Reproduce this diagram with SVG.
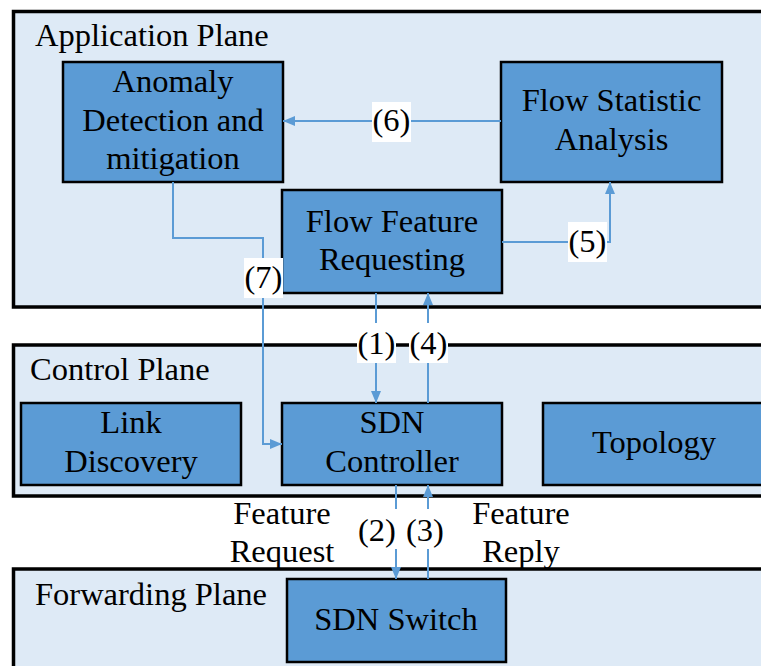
<svg xmlns="http://www.w3.org/2000/svg" width="761" height="666" viewBox="0 0 761 666">
<style>
.plane{fill:#DEEAF6;stroke:#000;stroke-width:3.5}
.box{fill:#5B9BD5;stroke:#000;stroke-width:2.5}
.c{fill:none;stroke:#5B9BD5;stroke-width:2}
.lb{fill:#fff}
.m{text-anchor:middle}
</style>
<defs>
<marker id="ah" markerWidth="12" markerHeight="10" refX="12" refY="5" orient="auto" markerUnits="userSpaceOnUse">
<path d="M0,0 L12,5 L0,10 Z" fill="#5B9BD5"/>
</marker>
</defs>
<rect width="761" height="666" fill="#fff"/>
<g font-family="Liberation Serif" font-size="32.5" fill="#000">
<g id="application-plane">
<rect class="plane" x="13.5" y="11.5" width="780" height="295.5"/>
<text x="35" y="46">Application Plane</text>
</g>
<g id="control-plane">
<rect class="plane" x="13.5" y="345" width="780" height="151"/>
<text x="30" y="380">Control Plane</text>
</g>
<g id="forwarding-plane">
<rect class="plane" x="13.5" y="569" width="780" height="120"/>
<text x="35" y="605">Forwarding Plane</text>
</g>
<g id="anomaly">
<rect class="box" x="63" y="62" width="220" height="120"/>
<text class="m" x="173" y="92">Anomaly</text>
<text class="m" x="173" y="131">Detection and</text>
<text class="m" x="173" y="169">mitigation</text>
</g>
<g id="flow-statistic">
<rect class="box" x="501" y="62" width="221" height="120"/>
<text class="m" x="611.5" y="111">Flow Statistic</text>
<text class="m" x="611.5" y="150">Analysis</text>
</g>
<g id="flow-feature">
<rect class="box" x="282" y="190" width="220" height="103"/>
<text class="m" x="392" y="232">Flow Feature</text>
<text class="m" x="392" y="270">Requesting</text>
</g>
<g id="link-discovery">
<rect class="box" x="21" y="403" width="220" height="82"/>
<text class="m" x="131" y="433">Link</text>
<text class="m" x="131" y="472">Discovery</text>
</g>
<g id="sdn-controller">
<rect class="box" x="282" y="403" width="220" height="82"/>
<text class="m" x="392" y="433">SDN</text>
<text class="m" x="392" y="472">Controller</text>
</g>
<g id="topology">
<rect class="box" x="543" y="403" width="260" height="82"/>
<text class="m" x="654" y="453">Topology</text>
</g>
<g id="sdn-switch">
<rect class="box" x="287" y="579" width="219" height="83"/>
<text class="m" x="396" y="630">SDN Switch</text>
</g>
<g id="connectors">
<path class="c" d="M501,121 H283" marker-end="url(#ah)"/>
<path class="c" d="M502,242 H610 V182" marker-end="url(#ah)"/>
<path class="c" d="M173,182 V238 H263 V444 H282" marker-end="url(#ah)"/>
<path class="c" d="M376,293 V403" marker-end="url(#ah)"/>
<path class="c" d="M428,403 V293" marker-end="url(#ah)"/>
<path class="c" d="M396,485 V579" marker-end="url(#ah)"/>
<path class="c" d="M428,579 V485" marker-end="url(#ah)"/>
</g>
<g id="labels">
<rect class="lb" x="372" y="102" width="39" height="40"/>
<text class="m" x="391.5" y="131">(6)</text>
<rect class="lb" x="568" y="222" width="39" height="40"/>
<text class="m" x="587.5" y="252">(5)</text>
<rect class="lb" x="244" y="258" width="39" height="40"/>
<text class="m" x="263.5" y="288">(7)</text>
<rect class="lb" x="357" y="323" width="39" height="40"/>
<text class="m" x="376.5" y="354">(1)</text>
<rect class="lb" x="409" y="323" width="39" height="40"/>
<text class="m" x="428.5" y="354">(4)</text>
<rect class="lb" x="357" y="509" width="91" height="40"/>
<text class="m" x="377" y="541">(2)</text>
<text class="m" x="425" y="541">(3)</text>
<text class="m" x="282" y="524">Feature</text>
<text class="m" x="282" y="562">Request</text>
<text class="m" x="521" y="524">Feature</text>
<text class="m" x="521" y="562">Reply</text>
</g>
</g>
</svg>
